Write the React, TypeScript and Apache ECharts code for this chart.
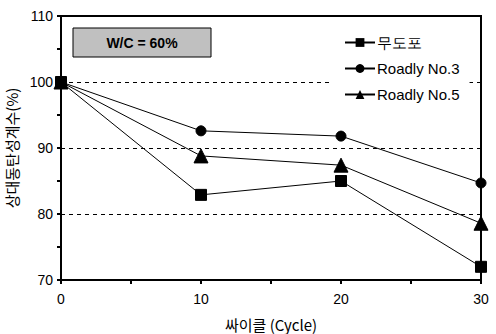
import React, { useEffect, useRef } from "react";
import * as echarts from "echarts";

const cycles = [0, 10, 20, 30];
const seriesNames = ["무도포", "Roadly No.3", "Roadly No.5"];
const uncoated = [100, 82.9, 85.0, 72.0];
const roadly3 = [100, 92.6, 91.8, 84.7];
const roadly5 = [100, 88.8, 87.4, 78.6];
const symbols = ["rect", "circle", "triangle"];
const symbolSizes = [11, 10, 14];

export default function App() {
  const ref = useRef<HTMLDivElement>(null);
  useEffect(() => {
    if (!ref.current) return;
    const chart = echarts.init(ref.current, null, { renderer: "svg" });
    const values = [uncoated, roadly3, roadly5];
    const latin = "'Liberation Sans', Arial, sans-serif";
    const kr = "'Noto Sans CJK KR', 'Liberation Sans', sans-serif";
    chart.setOption({
      animation: false,
      backgroundColor: "#fff",
      grid: {
        left: 61,
        right: 15,
        top: 16,
        bottom: 54,
        show: true,
        borderColor: "#000",
        borderWidth: 2,
        backgroundColor: "transparent",
        containLabel: false,
        outerBoundsMode: "none",
      },
      legend: {
        orient: "vertical",
        left: 329,
        top: 29,
        padding: [6, 10, 6, 15],
        backgroundColor: "#fff",
        itemWidth: 30,
        itemHeight: 11,
        itemGap: 11,
        data: seriesNames,
        textStyle: { fontFamily: latin, fontSize: 15, color: "#000", padding: [0, 0, 0, -3] },
      },
      xAxis: {
        type: "value",
        min: 0,
        max: 30,
        interval: 10,
        name: "싸이클 (Cycle)",
        nameLocation: "middle",
        nameGap: 37,
        nameTextStyle: { fontFamily: kr, fontSize: 15, color: "#000" },
        axisLine: { lineStyle: { color: "#000", width: 2 } },
        axisTick: { show: true, length: 4, lineStyle: { color: "#000", width: 2 } },
        minorTick: { show: true, splitNumber: 2, length: 4, lineStyle: { color: "#000", width: 2 } },
        splitLine: { show: false },
        axisLabel: { fontFamily: latin, fontSize: 14, color: "#000", margin: 12 },
      },
      yAxis: {
        type: "value",
        min: 70,
        max: 110,
        interval: 10,
        name: "상대동탄성계수(%)",
        nameLocation: "middle",
        nameGap: 40,
        nameTextStyle: { fontFamily: kr, fontSize: 15, color: "#000" },
        axisLine: { lineStyle: { color: "#000", width: 2 } },
        axisTick: { show: true, length: 4, lineStyle: { color: "#000", width: 2 } },
        minorTick: { show: true, splitNumber: 2, length: 4, lineStyle: { color: "#000", width: 2 } },
        splitLine: {
          show: true,
          lineStyle: { color: "#000", width: 1, type: [4, 4] },
          interval: 0,
        },
        axisLabel: { fontFamily: latin, fontSize: 14, color: "#000", margin: 8 },
      },
      graphic: [
        {
          type: "rect",
          shape: { x: 73, y: 28, width: 138, height: 29 },
          style: { fill: "#c0c0c0", stroke: "#000", lineWidth: 1 },
          z: 10,
        },
        {
          type: "text",
          x: 142,
          y: 43,
          style: {
            text: "W/C = 60%",
            fontFamily: latin,
            fontSize: 14,
            fontWeight: "bold",
            fill: "#000",
            align: "center",
            verticalAlign: "middle",
          },
          z: 11,
        },
      ],
      series: seriesNames.map((name, i) => ({
        name,
        type: "line",
        data: cycles.map((c, j) => [c, values[i][j]]),
        symbol: symbols[i],
        symbolSize: symbolSizes[i],
        showAllSymbol: true,
        clip: false,
        lineStyle: { color: "#000", width: 1 },
        itemStyle: { color: "#000", borderColor: "#000" },
        z: 5,
      })),
    });
    return () => chart.dispose();
  }, []);
  return <div ref={ref} style={{ width: 496, height: 334, position: "absolute", left: 0, top: 0 }} />;
}
